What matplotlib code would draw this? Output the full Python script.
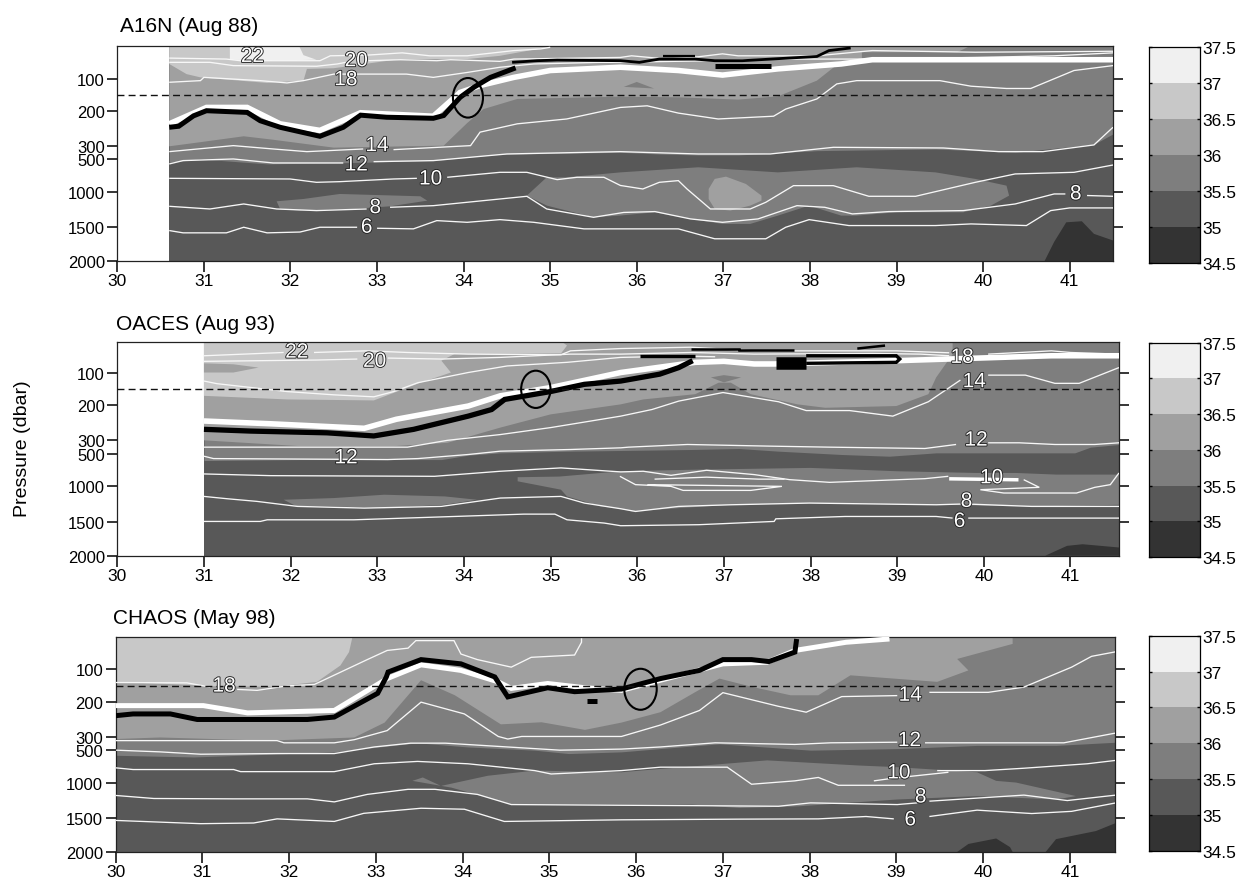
import numpy as np
import matplotlib
matplotlib.use("Agg")
import matplotlib.pyplot as plt
import matplotlib.patheffects as pe
from matplotlib.patches import Ellipse

plt.rcParams['font.family'] = ['Liberation Sans', 'DejaVu Sans']
nan = float('nan')
W, H = 1237, 887

# ---- axis data
X_TICKS = list(range(30, 42))
P_TICKS = [100, 200, 300, 500, 1000, 1500, 2000]
P_KNOTS = [0, 100, 200, 300, 500, 1000, 1500, 2000]
P_FRAC = [0, .152, .304, .465, .527, .679, .843, 1]
S_LEVELS = [34.5, 35, 35.5, 36, 36.5, 37, 37.5]
S_GRAYS = ['#333333', '#585858', '#7e7e7e', '#a0a0a0', '#c8c8c8', '#f0f0f0']

# ---- A16N (Aug 88)
A_S355 = [(30.6,545),(30.96,495),(31.73,570),(32.5,555),(33.65,520),(34.04,470),(34.42,425),(35.81,395),(36.26,420),(36.71,435),(37.17,435),(38.08,370),(39.45,345),(40.37,395),(41.28,295),(41.5,265)]
A_S36 = [(30.6,0),(39.85,0),(39.7,19),(38.6,19),(38.6,45),(38.3,60),(38.08,106),(37.63,154),(37.17,164),(36.48,157),(35.8,155),(34.62,162),(34.23,193),(34.04,234),(33.77,299),(32.5,325),(31.8,282),(31.46,272),(30.96,289),(30.6,305)]
A_S365 = [(30.6,0),(35.0,0),(34.96,4),(34.42,30),(34.04,40),(33.27,40),(32.5,68),(32.19,70),(32.15,106),(31.73,113),(30.96,96),(30.8,86),(30.6,55)]
A_S37 = [(31.3,0),(32.1,0),(32.15,28),(32.3,42),(31.75,45),(31.3,42)]
A_BLOB_BIG = [(34.73,1052),(34.96,775),(35.19,775),(35.81,700),(36.71,622),(37.63,700),(38.54,622),(39.45,700),(39.91,800),(40.27,903),(40.3,1052),(40.09,1193),(39.77,1288),(39.0,1288),(38.54,1335),(38.36,1335),(37.99,1193),(37.63,1335),(37.31,1453),(36.99,1453),(36.62,1382),(36.21,1288),(35.8,1335),(35.5,1359),(35.19,1264),(34.96,1193)]
A_BLOB_LEFT = [(31.84,1132),(32.15,1099),(32.57,1028),(33.5,1061),(33.58,1123),(33.15,1203),(32.73,1240),(32.11,1264),(31.88,1240)]
A_BLOB_CORE = [(36.83,954),(36.9,800),(37.03,765),(37.26,877),(37.44,1052),(37.44,1123),(37.31,1193),(37.08,1264),(36.9,1240),(36.83,1100)]
A_BLOB_DARK = [(40.71,2000),(40.82,1718),(40.96,1430),(41.14,1415),(41.28,1598),(41.5,1696),(41.5,2000)]
A_SPOT = [(35.85,125),(36.0,110),(36.2,130)]
A_T22 = [(30.6,37),(31.26,40),(31.42,45),(32.34,45),(32.46,30),(32.88,28),(33.29,21),(33.61,30),(34.04,30),(34.58,14),(34.89,9),(35.0,4)]
A_T20 = [(30.6,50),(31.07,50),(31.34,60),(32.3,62),(32.54,55),(32.64,50),(nan,nan),(32.9,45),(33.27,42),(33.69,45),(33.85,42),(34.42,47),(34.58,40),(35.81,35),(35.94,30),(36.35,40),(36.71,33),(36.99,24),(37.17,30),(38.08,30),(38.72,14),(39.91,19),(41.1,17),(41.5,16)]
A_T18 = [(30.6,111),(30.96,106),(31.0,96),(31.65,106),(31.96,113),(32.15,106),(32.5,86),(33.34,86),(33.65,96),(34.04,81),(34.42,65),(34.81,55),(35.58,50),(35.8,50),(36.85,45),(37.63,40),(38.72,40),(39.91,35),(40.82,30),(41.5,21)]
A_T14 = [(30.6,385),(31.34,299),(31.8,345),(32.19,385),(32.84,345),(nan,nan),(33.19,355),(34.08,299),(34.19,260),(34.62,236),(35.19,222),(35.81,188),(36.12,183),(36.48,205),(36.94,222),(37.58,214),(37.72,193),(38.08,162),(38.31,116),(38.54,106),(39.5,106),(39.86,123),(40.27,130),(40.55,130),(41.05,75),(41.5,60)]
A_T12 = [(30.6,571),(30.76,520),(31.34,495),(31.8,556),(32.61,556),(nan,nan),(32.96,536),(33.65,520),(34.5,420),(35.81,385),(36.71,420),(37.54,420),(38.27,320),(39.54,330),(40.18,385),(40.69,385),(41.28,297),(41.5,246)]
A_T10 = [(30.6,791),(31.996,801),(32.3,852),(32.57,842),(33.19,801),(33.46,791),(nan,nan),(33.81,775),(34.42,699),(34.73,699),(35.08,811),(35.31,775),(35.62,775),(35.81,900),(36.07,954),(36.26,852),(36.48,826),(36.58,954),(36.85,1241),(37.31,1241),(37.49,1146),(37.81,903),(38.27,903),(38.68,1061),(39.22,1061),(39.91,852),(40.37,724),(41.05,699),(41.5,587)]
A_T8 = [(30.6,1203),(31.07,1241),(31.46,1170),(31.84,1241),(32.3,1264),(32.88,1241),(nan,nan),(33.15,1217),(33.65,1194),(34.73,1061),(34.96,1241),(35.5,1359),(35.85,1290),(36.21,1278),(36.62,1382),(36.99,1430),(37.4,1382),(37.85,1194),(38.17,1217),(38.49,1311),(38.91,1278),(39.77,1264),(40.37,1170),(40.82,1028),(40.95,1028),(nan,nan),(41.2,1050),(41.5,1061)]
A_T6 = [(30.6,1549),(30.76,1583),(31.26,1583),(31.46,1500),(31.73,1583),(32.11,1571),(32.34,1500),(32.77,1500),(nan,nan),(33.0,1515),(33.42,1524),(33.69,1406),(34.04,1430),(34.42,1392),(34.81,1430),(35.39,1524),(35.8,1524),(36.48,1524),(36.9,1671),(37.49,1671),(37.72,1500),(37.99,1392),(38.45,1476),(39.45,1476),(39.86,1453),(40.5,1476),(40.78,1264),(41.0,1226),(41.5,1226)]
A_WHITE = [(30.6,236),(31.03,188),(31.5,188),(31.88,236),(32.34,255),(32.81,204),(33.65,214),(33.96,142),(34.19,121),(34.58,96),(35.0,75),(35.81,65),(36.48,75),(36.99,89),(37.63,70),(38.36,55),(38.72,42),(41.5,42)]
A_BLACK1 = [(30.6,246),(30.71,243),(30.88,213),(31.03,198),(31.5,203),(31.65,227),(31.88,246),(32.34,272),(32.61,246),(32.81,211),(33.11,217),(33.65,220),(33.77,212),(33.96,157),(34.12,126),(34.31,96),(34.6,67)]
A_BLACK2 = [(34.56,50),(34.85,45),(35.08,43),(35.81,45),(36.03,50),(36.26,40),(36.67,40),(36.9,45),(37.22,45),(38.08,32),(38.22,14),(38.47,6)]
A_BLACK3 = [(36.9,62),(37.55,62)]
A_BLACK4 = [(36.3,30),(36.67,30)]
A_ELLIPSE = (34.05, 158, 0.347, 120)
A_LABELS = [('22',31.56,32),('20',32.76,45),('18',32.64,103),('14',33.0,299),('12',32.76,587),('10',33.62,801),('8',32.98,1222),('6',32.88,1500),('8',41.07,1028)]

# ---- OACES (Aug 93)
B_S355 = [(31,607),(32.11,592),(33.74,592),(34.05,525),(34.42,490),(35.19,465),(35.81,455),(36.62,440),(37.17,425),(37.63,465),(38.36,515),(38.91,541),(39.45,490),(40.37,490),(41.05,490),(41.23,405),(41.56,365)]
B_S36 = [(31,0),(39.64,0),(39.64,44),(39.45,115),(39.36,166),(38.99,202),(38.17,207),(37.85,197),(37.31,166),(37.08,131),(36.94,131),(36.67,166),(36.07,182),(35.81,197),(35.0,226),(34.42,264),(33.81,340),(33.19,390),(32.11,390),(31,303)]
B_S365 = [(31,0),(35.1,0),(35.19,18),(35.12,42),(33.89,44),(33.74,64),(33.85,100),(33.5,131),(32.96,185),(31.96,182),(31,171)]
B_NOTCH = [(31,72),(31.34,75),(31.63,85),(31.34,100),(31,100)]
B_SPOT = [(36.85,115),(37.0,108),(37.2,115),(37.0,130)]
B_BLOB_BIG = [(34.62,861),(35.1,851),(35.81,770),(36.71,745),(38.0,719),(39.0,770),(39.91,796),(40.37,796),(40.84,821),(41.56,821),(41.56,1260),(40.64,1283),(39.45,1260),(37.99,1236),(37.08,1260),(36.48,1307),(35.94,1354),(35.81,1316),(35.58,1283),(35.19,1142),(35.12,1047),(34.62,923)]
B_BLOB_LEFT = [(31.92,1189),(32.5,1165),(33.08,1118),(33.78,1142),(34.15,1189),(33.78,1260),(33.08,1307),(32.5,1283),(32.07,1283)]
B_BLOB_DARK = [(40.71,2000),(40.96,1855),(41.14,1831),(41.56,1879),(41.56,2000)]
B_T22 = [(31,49),(31.46,44),(31.92,39),(nan,nan),(32.27,39),(32.88,34),(33.35,39),(34.05,44),(35.12,46),(35.23,34),(35.81,27),(36.62,23),(37.35,34),(38.08,34),(38.99,34),(39.6,40)]
B_T20 = [(31,66),(32.3,62),(32.77,59),(nan,nan),(33.12,56),(33.74,59),(34.42,54),(35.23,44),(35.81,44),(36.62,39),(37.35,44),(38.72,42),(39.27,44),(39.6,49),(nan,nan),(40.05,44),(40.78,34),(41.0,39),(41.56,44)]
B_T18 = [(31,126),(31.15,134),(31.96,158),(32.5,168),(32.96,174),(33.19,158),(33.47,131),(34.05,100),(34.5,80),(35.19,69),(35.81,54),(36.5,50),(36.9,52)]
B_T14 = [(31,405),(33.35,405),(33.81,303),(34.42,284),(35.0,264),(35.81,231),(36.17,212),(36.48,187),(36.99,161),(37.63,189),(37.95,215),(38.45,215),(38.95,231),(39.36,189),(39.73,123),(nan,nan),(40.05,108),(40.48,108),(40.82,133),(41.1,133),(41.56,85)]
B_T12 = [(31,541),(31.11,577),(33.12,592),(33.47,577),(34.05,515),(34.42,465),(35.23,440),(35.81,415),(35.9,405),(36.58,365),(37.54,390),(38.22,405),(39.32,425),(39.68,365),(nan,nan),(40.05,340),(40.41,340),(40.82,365),(41.28,365),(41.56,340)]
B_T10 = [(31,811),(31.77,837),(33.66,847),(34.42,770),(35.12,719),(35.81,780),(36.07,770),(36.39,832),(36.8,755),(37.35,821),(37.76,898),(38.22,939),(39.32,883),(39.59,847),(nan,nan),(40.46,898),(40.64,1014),(39.96,1047),(40.23,1094),(41.07,1094),(41.28,1014),(41.46,974),(41.56,796)]
B_T10B = [(35.8,847),(35.98,974),(36.39,1000),(36.53,1057),(37.31,1057),(37.67,1000),(36.12,974)]
B_T10C = [(36.2,890),(36.8,860),(37.4,890),(37.7,890)]
B_T8 = [(31,1142),(31.27,1175),(31.61,1212),(32.08,1283),(32.85,1307),(33.74,1283),(34.42,1165),(35.12,1142),(35.39,1236),(35.81,1316),(35.98,1354),(36.48,1283),(37.08,1260),(37.99,1236),(39.45,1260),(39.73,1250),(nan,nan),(39.82,1250),(40.55,1283),(41.56,1283)]
B_T6 = [(31,1495),(31.65,1495),(31.73,1472),(32.73,1472),(33.89,1425),(34.69,1392),(35.05,1392),(35.19,1472),(35.62,1519),(35.81,1558),(36.71,1543),(37.58,1495),(37.6,1458),(38.4,1425),(39.45,1425),(39.64,1448),(nan,nan),(39.82,1448),(41.56,1448)]
B_WHITE = [(31,245),(31.77,253),(32.85,266),(33.22,240),(34.05,202),(34.42,171),(35.0,146),(35.81,100),(36.67,69),(37.0,66),(37.35,74),(37.58,74),(38.99,64),(40.78,49),(41.56,49)]
B_PATCH = [(39.6,885),(40.4,900)]
B_BLACK1 = [(31,269),(31.54,274),(32.42,279),(32.96,288),(33.42,269),(34.05,231),(34.32,212),(34.47,182),(35.0,158),(35.39,136),(35.81,126),(36.26,105),(36.48,85),(36.64,64)]
B_BLACK2 = [(36.03,49),(36.67,49)]
B_BLACK3 = [(36.62,27),(37.17,27),(37.17,32),(37.81,32)]
B_BLACK4 = [(38.54,27),(38.86,18)]
B_BLACK5 = [(37.6,72),(37.95,72)]
B_BLACK6 = [(37.95,72),(38.99,69),(39.03,59),(38.99,49),(37.95,49)]
B_ELLIPSE = (34.83, 151, 0.339, 113)
B_LABELS = [('22',32.07,38),('20',32.97,66),('12',32.64,566),('18',39.75,54),('14',39.89,128),('12',39.91,300),('10',40.09,870),('8',39.8,1212),('6',39.72,1495)]

# ---- CHAOS (May 98)
C_S355 = [(30,578),(30.9,604),(32.52,526),(33.48,390),(34.06,452),(34.83,500),(35.22,552),(35.83,526),(36.28,476),(36.96,405),(38.01,500),(39.03,476),(39.93,429),(40.84,429),(41.53,381)]
C_S36 = [(30,0),(40.34,0),(40.34,22),(39.7,68),(39.83,103),(39.47,138),(38.47,118),(38.1,179),(37.78,179),(37.33,153),(36.96,128),(36.69,168),(36.28,229),(35.83,259),(35.41,280),(34.91,258),(34.44,264),(33.91,179),(33.52,133),(33.1,259),(32.75,310),(31.75,357),(30.51,310),(30,333)]
C_S365 = [(30,0),(32.73,0),(32.69,47),(32.59,88),(32.32,138),(31.82,153),(31.09,151),(30.82,147),(30,138)]
C_BLOB_BIG = [(33.42,969),(33.54,917),(33.75,1043),(34.29,891),(34.83,812),(35.83,838),(36.05,812),(37.51,656),(38.56,734),(39.01,760),(39.93,838),(40.15,969),(40.38,995),(41.07,1187),(40.84,1235),(39.93,1187),(39.01,1235),(37.87,1332),(37.19,1356),(36.64,1307),(35.83,1307),(34.56,1307),(34.29,1211),(33.87,1067)]
C_DARK1 = [(39.7,2000),(39.83,1881),(40.15,1800),(40.31,1928),(40.34,2000)]
C_DARK2 = [(40.72,2000),(40.84,1810),(41.3,1690),(41.53,1571),(41.53,2000)]
C_T18 = [(30,140),(30.82,141),(31.09,154),(nan,nan),(31.4,161),(31.63,164),(31.98,150),(32.29,146),(32.9,70),(33.13,42),(33.37,35),(33.46,12),(33.9,12),(33.98,53),(34.17,70),(34.56,93),(34.79,63),(35.29,56),(35.37,17),(35.37,5)]
C_T14 = [(30,357),(31.86,357),(31.94,390),(32.52,390),(32.75,343),(33.13,282),(33.52,200),(34.02,234),(34.41,299),(34.52,333),(34.68,299),(35.83,299),(36.28,266),(36.73,224),(37,171),(37.64,212),(37.96,229),(38.37,183),(39.01,180),(nan,nan),(39.38,170),(40.06,170),(40.47,154),(41.02,93),(41.25,60),(41.53,46)]
C_T12 = [(30,500),(30.51,526),(30.98,562),(31.86,552),(32.52,552),(32.98,452),(33.4,395),(33.8,395),(35.12,500),(35.83,484),(36.28,452),(36.91,390),(37.83,414),(38.24,390),(39.01,381),(nan,nan),(39.33,390),(40.93,390),(41.53,289)]
C_T10 = [(30,770),(30.2,796),(31.36,796),(31.44,828),(32.52,828),(32.98,708),(33.48,672),(34.06,708),(34.83,812),(35.02,864),(35.83,812),(36.28,760),(37.05,760),(37.33,1019),(37.83,969),(38.1,917),(38.33,1034),(39.1,1034)]
C_T10B = [(38.74,969),(38.97,927),(39.6,838),(nan,nan),(39.47,812),(40.02,812),(40.47,776),(41.2,708),(41.53,656)]
C_T8 = [(30,1178),(30.44,1221),(31.36,1226),(32.21,1226),(32.52,1269),(32.9,1163),(33.37,1091),(33.68,1091),(34.17,1163),(34.56,1307),(35.83,1317),(36.64,1322),(37.64,1331),(38.01,1283),(39.01,1307),(39.24,1283),(nan,nan),(39.38,1259),(40.47,1173),(40.97,1250),(41.53,1173)]
C_T6 = [(30,1533),(30.98,1581),(31.59,1571),(31.86,1510),(32.52,1548),(32.86,1431),(33.52,1359),(34.02,1373),(34.48,1548),(35.83,1524),(37.19,1514),(38.1,1510),(38.65,1476),(38.97,1510),(nan,nan),(39.38,1476),(39.93,1386),(40.56,1434),(41.02,1403),(41.53,1283)]
C_WHITE = [(30,210),(31.01,210),(31.52,231),(32.52,224),(33.13,128),(33.52,86),(33.98,103),(34.41,138),(34.56,158),(34.98,143),(35.41,156),(35.83,164),(36.28,133),(37,83),(37.51,78),(37.83,42),(38.42,17),(38.92,7)]
C_BLACK = [(30,239),(30.2,234),(30.63,234),(30.94,250),(32.21,250),(32.52,243),(33.02,173),(33.12,123),(33.14,108),(33.52,70),(33.98,83),(34.37,123),(34.52,184),(34.98,156),(35.29,168),(35.83,160),(36.28,128),(36.73,103),(37.0,70),(37.33,70),(37.53,76),(37.83,47),(37.85,7)]
C_DOT = [(35.43,196),(35.55,196)]
C_ELLIPSE = (36.05, 160, 0.374, 124)
C_LABELS = [('18',31.25,151),('14',39.16,179),('12',39.15,357),('10',39.03,848),('8',39.28,1200),('6',39.16,1524)]


def fwd(p):
    return np.interp(p, P_KNOTS, P_FRAC)


def inv(f):
    return np.interp(f, P_FRAC, P_KNOTS)


def px_axes(fig, l, t, r, b):
    return fig.add_axes([l / W, 1 - b / H, (r - l) / W, (b - t) / H])


def poly(ax, pts, color):
    a = np.array(pts, float)
    ax.fill(a[:, 0], a[:, 1], color=color, lw=0, zorder=2)


def line(ax, pts, color='#f7f7f7', lw=0.95, z=3):
    a = np.array(pts, float)
    ax.plot(a[:, 0], a[:, 1], color=color, lw=lw, zorder=z, solid_capstyle='butt', solid_joinstyle='miter')


def panel(box, title, title_x, title_y, cbox, xlim, ptop, x0, fills, thin, whites, blacks, ell, labels):
    ax = px_axes(fig, *box)
    ax.set_yscale('function', functions=(fwd, inv))
    ax.set_xlim(*xlim)
    ax.set_ylim(2000, ptop)
    ax.fill_between([x0, xlim[1]], ptop, 2000, color=S_GRAYS[1], lw=0, zorder=1)
    top = np.array(fills[0], float)
    ax.fill_between(top[:, 0], ptop, top[:, 1], color=S_GRAYS[2], lw=0, zorder=2)
    for pts, col in fills[1:]:
        poly(ax, pts, col)
    for pts in thin:
        line(ax, pts)
    for pts, lw in whites:
        line(ax, pts, color='white', lw=lw, z=4)
    for pts, lw in blacks:
        line(ax, pts, color='black', lw=lw, z=5)
    ax.plot(xlim, [150, 150], color='#111111', lw=1.0, ls=(0, (5, 3)), zorder=6)
    ax.add_patch(Ellipse((ell[0], ell[1]), ell[2], ell[3], fill=False, ec='black', lw=1.5, zorder=7))
    for s, x, y in labels:
        ax.text(x, y, s, color='white', fontsize=15, ha='center', va='center', zorder=8,
                path_effects=[pe.withStroke(linewidth=1.3, foreground='#222222')])
    ax.set_xticks(X_TICKS)
    ax.set_yticks(P_TICKS)
    ax.minorticks_off()
    ax.set_yticklabels([str(p) for p in P_TICKS])
    ax.tick_params(axis='x', length=8, width=1.1, pad=1, labelsize=12.5)
    ax.tick_params(axis='y', length=7, width=1.1, pad=2, labelsize=12, right=True)
    ax.yaxis.get_major_ticks()[-1].tick2line.set_visible(False)
    for s in ax.spines.values():
        s.set_linewidth(0.9)
        s.set_color('#222222')
    fig.text(title_x / W, 1 - title_y / H, title, fontsize=15, ha='left', va='center')
    cax = px_axes(fig, *cbox)
    for i, col in enumerate(S_GRAYS):
        cax.bar(0.5, S_LEVELS[i + 1] - S_LEVELS[i], bottom=S_LEVELS[i], width=1, color=col, lw=0)
    cax.set_xlim(0, 1)
    cax.set_ylim(34.5, 37.5)
    cax.set_xticks([])
    cax.set_yticks(S_LEVELS)
    cax.set_yticklabels(['34.5', '35', '35.5', '36', '36.5', '37', '37.5'])
    cax.tick_params(axis='y', direction='in', length=2, width=1, left=True, right=True,
                    labelleft=False, labelright=True, pad=1.5, labelsize=12.5)
    for s in cax.spines.values():
        s.set_linewidth(0.9)
    return ax


fig = plt.figure(figsize=(W / 100, H / 100), dpi=100, facecolor='white')
G = dict(zip(['s345', 's35', 's355', 's36', 's365', 's37'], S_GRAYS))

panel((117.3, 47, 1113, 262), 'A16N (Aug 88)', 120, 26, (1148.5, 48.3, 1200, 264), (30, 41.5), 0, 30.6,
      [A_S355, (A_BLOB_BIG, G['s355']), (A_BLOB_LEFT, G['s355']), (A_BLOB_CORE, G['s36']), (A_BLOB_DARK, G['s345']),
       (A_S36, G['s36']), (A_SPOT, G['s355']), (A_S365, G['s365']), (A_S37, G['s37'])],
      [A_T22, A_T20, A_T18, A_T14, A_T12, A_T10, A_T8, A_T6], [(A_WHITE, 4.0)],
      [(A_BLACK1, 3.6), (A_BLACK2, 2.0), (A_BLACK3, 3.6), (A_BLACK4, 1.6)], A_ELLIPSE, A_LABELS)

panel((117.3, 343.3, 1119, 556.7), 'OACES (Aug 93)', 116, 325, (1148.5, 343.7, 1200, 558), (30, 41.56), 8, 31,
      [B_S355, (B_BLOB_BIG, G['s355']), (B_BLOB_LEFT, G['s355']), (B_BLOB_DARK, G['s345']),
       (B_S36, G['s36']), (B_SPOT, G['s355']), (B_S365, G['s365']), (B_NOTCH, G['s36'])],
      [B_T22, B_T20, B_T18, B_T14, B_T12, B_T10, B_T10B, B_T10C, B_T8, B_T6], [(B_WHITE, 4.0), (B_PATCH, 2.5)],
      [(B_BLACK1, 3.8), (B_BLACK2, 2.4), (B_BLACK3, 1.8), (B_BLACK4, 1.8), (B_BLACK5, 9), (B_BLACK6, 2.4)],
      B_ELLIPSE, B_LABELS)

panel((115.7, 637.7, 1115, 853), 'CHAOS (May 98)', 113, 619, (1148.5, 636.7, 1200, 851.7), (30, 41.52), 0, 30,
      [C_S355, (C_BLOB_BIG, G['s355']), (C_DARK1, G['s345']), (C_DARK2, G['s345']),
       (C_S36, G['s36']), (C_S365, G['s365'])],
      [C_T18, C_T14, C_T12, C_T10, C_T10B, C_T8, C_T6], [(C_WHITE, 3.6)],
      [(C_BLACK, 3.6), (C_DOT, 3.6)], C_ELLIPSE, C_LABELS)

fig.text(23 / W, 1 - 449 / H, 'Pressure (dbar)', rotation=90, fontsize=14, ha='center', va='center')
fig.savefig('out.png', dpi=100)
